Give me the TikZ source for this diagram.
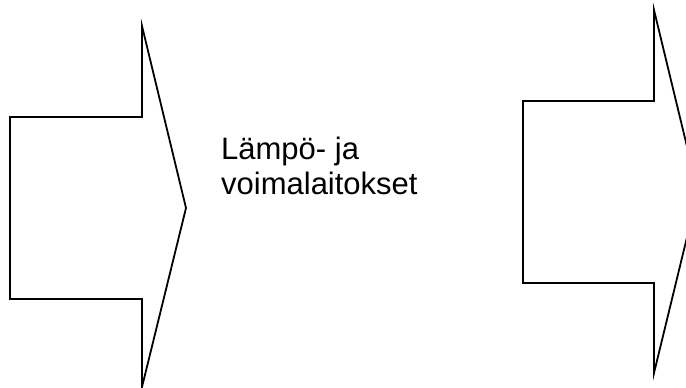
\documentclass[tikz,border=0pt]{standalone}
\usepackage{fontspec}
\setmainfont{Liberation Sans}
\begin{document}
\begin{tikzpicture}[x=1pt,y=-1pt,
  blockarrow/.style={draw=black,line width=1.8pt,line join=miter,fill=white},
  label/.style={inner sep=0pt,align=left,anchor=base west,font=\fontsize{31}{35}\selectfont}]
  \useasboundingbox (0,0) rectangle (686,388);
  \begin{scope}
    \clip (0,0) rectangle (686,388);
    % left block arrow
    \draw[blockarrow] (10,117) -- (142,117) -- (142,26) -- (186,208)
      -- (142,387) -- (142,299) -- (10,299) -- cycle;
    % right block arrow, its tip runs off the right edge
    \draw[blockarrow] (523,101) -- (654,101) -- (654,10) -- (698,192)
      -- (654,373) -- (654,283) -- (523,283) -- cycle;
  \end{scope}
  \node[label] (plants) at (221,194) {Lämpö- ja\\voimalaitokset};
\end{tikzpicture}
\end{document}
